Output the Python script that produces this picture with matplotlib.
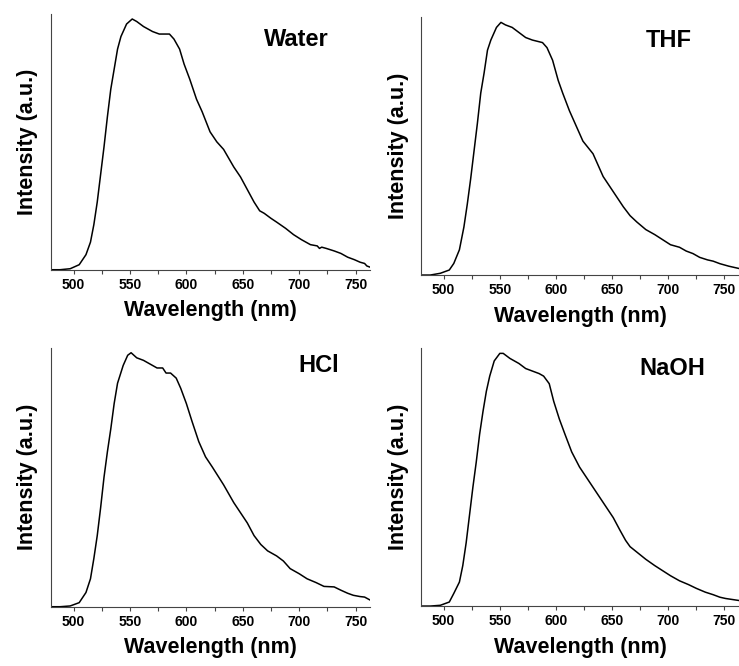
import matplotlib
matplotlib.use("Agg")
import matplotlib.pyplot as plt
from matplotlib.ticker import MultipleLocator

plt.rcParams['font.family'] = ['Liberation Sans', 'DejaVu Sans']
plt.rcParams['font.weight'] = 'bold'

water_x = [480, 488, 497, 505, 511, 515, 518, 521, 524, 527, 530, 533, 536, 539, 542, 547, 552,
           556, 562, 570, 576, 585, 589, 594, 598, 603, 609, 614, 621, 627, 633,
           642, 648, 654, 660, 665, 669, 675, 680, 688, 695, 702, 710, 716, 718, 720, 724,
           731, 737, 743, 749, 754, 758, 760, 763]
water_y = [0.0, 0.0, 0.004, 0.02, 0.06, 0.11, 0.18, 0.27, 0.38, 0.49, 0.61, 0.72, 0.80, 0.88, 0.93, 0.98, 1.0,
           0.99, 0.97, 0.95, 0.94, 0.94, 0.92, 0.88, 0.82, 0.76, 0.68, 0.63, 0.55, 0.51, 0.48,
           0.41, 0.37, 0.32, 0.27, 0.235, 0.225, 0.205, 0.19, 0.165, 0.14, 0.12, 0.10, 0.095, 0.085, 0.09, 0.085,
           0.075, 0.065, 0.05, 0.04, 0.03, 0.025, 0.015, 0.01]

thf_x = [480, 488, 497, 505, 509, 514, 518, 521, 524, 527, 530, 533, 536, 539, 542, 547, 551,
         555, 561, 567, 573, 579, 588, 592, 597, 602, 606, 612, 618, 624, 633,
         636, 642, 648, 654, 660, 666, 672, 680, 688, 695, 702, 710, 716, 722, 728, 735,
         740, 746, 754, 763]
thf_y = [0.0, 0.0, 0.007, 0.02, 0.046, 0.10, 0.19, 0.28, 0.38, 0.49, 0.60, 0.72, 0.80, 0.89, 0.93, 0.98, 1.0,
         0.99, 0.98, 0.96, 0.94, 0.93, 0.92, 0.90, 0.85, 0.77, 0.72, 0.65, 0.59, 0.53, 0.48,
         0.45, 0.39, 0.35, 0.31, 0.27, 0.235, 0.21, 0.18, 0.16, 0.14, 0.12, 0.11, 0.095, 0.085, 0.07, 0.06,
         0.055, 0.045, 0.035, 0.026]

hcl_x = [480, 488, 497, 505, 511, 515, 518, 521, 524, 527, 530, 533, 536, 539, 544, 548, 551,
         556, 562, 570, 574, 579, 582, 586, 591, 595, 600, 605, 611, 617, 623, 633,
         642, 654, 660, 666, 672, 680, 686, 692, 700, 707, 715, 722, 731, 737, 743,
         748, 754, 758, 763]
hcl_y = [0.0, 0.0, 0.003, 0.016, 0.056, 0.11, 0.19, 0.28, 0.39, 0.51, 0.61, 0.70, 0.80, 0.88, 0.95, 0.99, 1.0,
         0.98, 0.97, 0.95, 0.94, 0.94, 0.92, 0.92, 0.90, 0.86, 0.80, 0.73, 0.65, 0.59, 0.55, 0.48,
         0.41, 0.33, 0.28, 0.245, 0.22, 0.20, 0.18, 0.15, 0.13, 0.11, 0.095, 0.08, 0.078, 0.065, 0.053,
         0.045, 0.04, 0.038, 0.026]

naoh_x = [480, 488, 497, 505, 509, 514, 517, 520, 523, 526, 529, 532, 535, 538, 541, 545, 550,
          553, 559, 567, 573, 579, 585, 589, 594, 598, 603, 608, 614, 621, 633,
          639, 645, 651, 657, 662, 666, 673, 680, 688, 695, 702, 710, 718, 725, 733,
          740, 746, 751, 757, 763]
naoh_y = [0.0, 0.0, 0.003, 0.016, 0.05, 0.095, 0.16, 0.25, 0.36, 0.47, 0.57, 0.68, 0.77, 0.85, 0.91, 0.97, 1.0,
          1.0, 0.98, 0.96, 0.94, 0.93, 0.92, 0.91, 0.88, 0.81, 0.74, 0.68, 0.61, 0.55, 0.47,
          0.43, 0.39, 0.35, 0.30, 0.26, 0.235, 0.21, 0.185, 0.16, 0.14, 0.12, 0.10, 0.085, 0.07, 0.055,
          0.045, 0.035, 0.03, 0.026, 0.022]

labels = ['Water', 'THF', 'HCl', 'NaOH']
xs = [water_x, thf_x, hcl_x, naoh_x]
ys = [water_y, thf_y, hcl_y, naoh_y]

# axes boxes in figure fraction [left, bottom, width, height]
boxes = [[0.069, 0.595, 0.432, 0.384],
         [0.570, 0.587, 0.430, 0.387],
         [0.069, 0.089, 0.432, 0.389],
         [0.570, 0.090, 0.430, 0.387]]
label_pos = [(0.77, 0.90), (0.78, 0.91), (0.84, 0.93), (0.79, 0.92)]

fig = plt.figure(figsize=(7.39, 6.66), dpi=100)
for i in range(4):
    ax = fig.add_axes(boxes[i])
    ax.plot(xs[i], ys[i], color='black', lw=1.1)
    ax.set_xlim(480, 763)
    ax.set_ylim(0, 1.02)
    ax.spines['top'].set_visible(False)
    ax.spines['right'].set_visible(False)
    ax.spines['left'].set_color('#444444')
    ax.spines['bottom'].set_color('#444444')
    ax.set_yticks([])
    ax.xaxis.set_major_locator(MultipleLocator(50))
    ax.xaxis.set_minor_locator(MultipleLocator(25))
    ax.tick_params(axis='x', which='both', direction='out', length=3, width=0.8,
                   labelsize=10, pad=3, colors='#444444', labelcolor='black')
    ax.set_xlabel('Wavelength (nm)', fontsize=15.5, fontweight='bold', labelpad=6)
    ax.set_ylabel('Intensity (a.u.)', fontsize=15.5, fontweight='bold', labelpad=9)
    ax.text(label_pos[i][0], label_pos[i][1], labels[i], transform=ax.transAxes,
            ha='center', va='center', fontsize=17, fontweight='bold')

fig.savefig('out.png', dpi=100)
